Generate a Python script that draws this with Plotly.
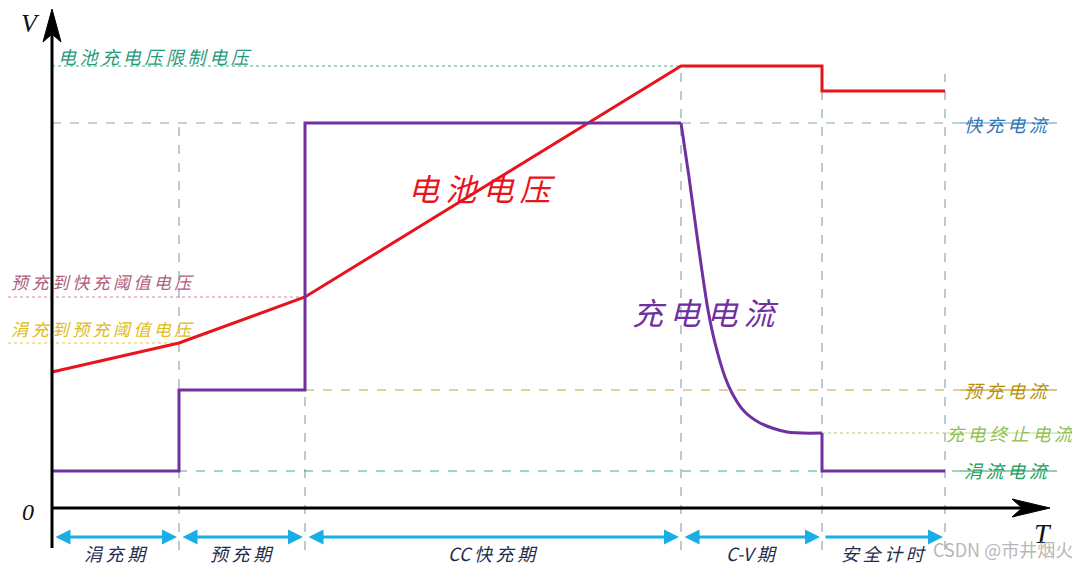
import plotly.graph_objects as go

# ---------------- data (diagram units: x = time, y = level above the T axis) ----------------
phase_t = [52, 179, 305, 681, 822, 945]          # phase boundaries
phase_names = ["涓充期", "预充期", "CC快充期", "C-V期", "安全计时"]

volt_t = [52, 179, 305, 681, 822, 822, 945]
volt_v = [136, 165, 211, 442, 442, 417, 417]

step_t = [52, 179, 179, 305, 305, 681]
step_i = [37, 37, 118, 118, 385, 385]

cv_t = [681, 689, 698, 708, 715, 725, 732, 743, 760, 787, 822]
cv_i = [385, 331, 265, 198, 165, 131, 115, 98, 85, 76, 75]

tail_t = [822, 822, 945]
tail_i = [75, 37, 37]

V_LIMIT, V_FAST_THR, V_PRE_THR = 442, 211, 165
I_FAST, I_PRE, I_TERM, I_TRICKLE = 385, 118, 75, 37

# page has an 8px body margin: figure is drawn 8px in from the top-left
X_RANGE = [8, 1080]
Y_RANGE = [-58, 500]
FIG_W, FIG_H = 1072, 558

CJK = "Noto Sans CJK SC"
SERIF = "Liberation Serif"


def spaced(s):
    out = ""
    for i, ch in enumerate(s):
        out += ch
        if i < len(s) - 1 and (ord(ch) > 0x2E80 or ord(s[i + 1]) > 0x2E80):
            out += "\u2009"
    return out


fig = go.Figure()

shapes = []
annotations = []

# vertical dashed phase lines
v_tops = [None, I_FAST, I_FAST, V_LIMIT, V_LIMIT - 25, V_LIMIT - 8]
for t, top in zip(phase_t, v_tops):
    if top is None:
        continue
    shapes.append(dict(type="line", x0=t, x1=t, y0=-42, y1=top, layer="below",
                       line=dict(color="#6f9aa6", width=1, dash="dash")))


def hline(y, x0, x1, color, dash, width=1):
    shapes.append(dict(type="line", x0=x0, x1=x1, y0=y, y1=y, layer="below",
                       line=dict(color=color, width=width, dash=dash)))


hline(V_LIMIT, 52, 681, "#4aa88e", "dot")
hline(V_FAST_THR, 8, 305, "#c88aa0", "dot")
hline(V_PRE_THR, 8, 179, "#e0c84a", "dot")
hline(I_FAST, 52, 960, "#7fa7b5", "dash", 1.2)
hline(I_FAST, 960, 1057, "#5a8fb8", "solid", 1)
hline(I_PRE, 305, 960, "#c8a040", "dash", 1.2)
hline(I_PRE, 960, 1057, "#b8900a", "solid", 1)
hline(I_TERM, 822, 945, "#a8d080", "dot")
hline(I_TERM, 945, 1078, "#a8d080", "solid", 0.8)
hline(I_TRICKLE, 52, 960, "#4aa880", "dash", 1.2)
hline(I_TRICKLE, 960, 1057, "#20a060", "solid", 1)

# axes
shapes.append(dict(type="line", x0=52, x1=52, y0=-40, y1=480,
                   line=dict(color="black", width=3)))
shapes.append(dict(type="line", x0=52, x1=1025, y0=0, y1=0,
                   line=dict(color="black", width=3)))
shapes.append(dict(type="path",
                   path="M 52 499 L 61 466 L 52 474 L 43 466 Z",
                   fillcolor="black", line=dict(color="black", width=1)))
shapes.append(dict(type="path",
                   path="M 1050 0 L 1012 9 L 1022 0 L 1012 -9 Z",
                   fillcolor="black", line=dict(color="black", width=1)))

# curves
fig.add_trace(go.Scatter(x=volt_t, y=volt_v, mode="lines",
                         line=dict(color="#e8141c", width=3), hoverinfo="skip"))
fig.add_trace(go.Scatter(x=step_t, y=step_i, mode="lines",
                         line=dict(color="#7030a0", width=3), hoverinfo="skip"))
fig.add_trace(go.Scatter(x=cv_t, y=cv_i, mode="lines",
                         line=dict(color="#7030a0", width=3, shape="spline", smoothing=0.8),
                         hoverinfo="skip"))
fig.add_trace(go.Scatter(x=tail_t, y=tail_i, mode="lines",
                         line=dict(color="#7030a0", width=3), hoverinfo="skip"))

# phase arrows
ARROW_Y = -29
for i in range(len(phase_t) - 1):
    a, b = phase_t[i], phase_t[i + 1]
    side = "end+start" if i < len(phase_t) - 2 else "end"
    annotations.append(dict(x=b - 2, y=ARROW_Y, ax=a + 2, ay=ARROW_Y,
                            xref="x", yref="y", axref="x", ayref="y",
                            showarrow=True, arrowhead=2, arrowside=side,
                            arrowsize=1.0, arrowwidth=3, arrowcolor="#1aaee6",
                            text=""))
    annotations.append(dict(x=(a + b) / 2, y=-45, xref="x", yref="y",
                            text="<i>" + spaced(phase_names[i]) + "</i>", showarrow=False,
                            font=dict(family=CJK, size=18, color="#1f2d4f"),
                            yanchor="middle"))


def label(text, x, y, color, size=18, xanchor="left"):
    annotations.append(dict(x=x, y=y, xref="x", yref="y", text="<i>" + spaced(text) + "</i>",
                            showarrow=False, xanchor=xanchor, yanchor="middle",
                            font=dict(family=CJK, size=size, color=color)))


label("电池充电压限制电压", 56, 452, "#1f9a7a")
label("预充到快充阈值电压", 9, 227, "#b0607a", size=17)
label("涓充到预充阈值电压", 9, 180, "#e0bc18", size=17)
label("快充电流", 962, 384, "#2e75b6")
label("预充电流", 962, 118, "#b8900a")
label("充电终止电流", 944, 75, "#92c050")
label("涓流电流", 962, 38, "#20a060")
label("电池电压", 406, 321, "#e8141c", size=31)
label("充电电流", 630, 197, "#7030a0", size=31)

# axis letters
for txt, x, y, sz in [("V", 30, 485, 26), ("0", 28, -4, 24), ("T", 1043, -25, 28)]:
    annotations.append(dict(x=x, y=y, xref="x", yref="y", text="<i>" + txt + "</i>",
                            showarrow=False, xanchor="center", yanchor="middle",
                            font=dict(family=SERIF, size=sz, color="#111111")))

# watermark
annotations.append(dict(x=1075, y=-41, xref="x", yref="y", text="CSDN @市井烟火",
                        showarrow=False, xanchor="right", yanchor="middle",
                        font=dict(family=CJK, size=18, color="rgba(150,150,150,0.7)")))

fig.update_layout(
    width=FIG_W, height=FIG_H,
    margin=dict(l=0, r=0, t=0, b=0),
    paper_bgcolor="white", plot_bgcolor="white",
    showlegend=False,
    shapes=shapes, annotations=annotations,
    xaxis=dict(range=X_RANGE, visible=False, fixedrange=True),
    yaxis=dict(range=Y_RANGE, visible=False, fixedrange=True),
)

fig.write_html("out.html")
